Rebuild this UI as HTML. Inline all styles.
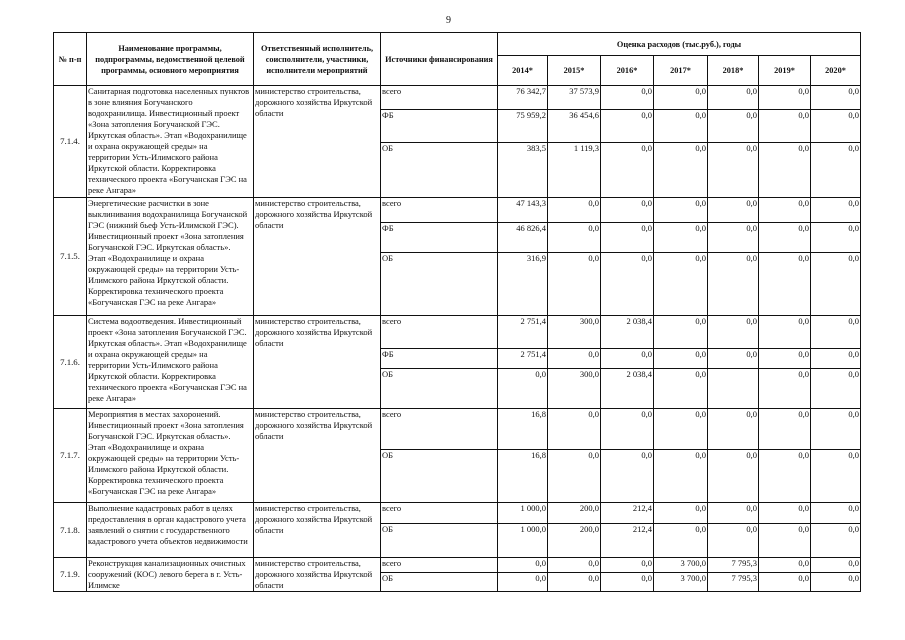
<!DOCTYPE html>
<html><head><meta charset="utf-8"><style>
html,body{margin:0;padding:0;background:#fff;width:905px;height:640px;overflow:hidden}
body{font-family:"Liberation Serif","DejaVu Serif",serif;color:#111}
.pn{position:absolute;left:446px;top:15px;font-size:10px}
table{position:absolute;left:53px;top:32px;border-collapse:collapse;table-layout:fixed;font-size:8.5px;line-height:11px}
td{border:1px solid #111;padding:0 1px;vertical-align:top;overflow:hidden;box-sizing:border-box}
td.t{white-space:nowrap}
th{border:1px solid #111;font-weight:bold;font-size:8.3px;line-height:11px;vertical-align:middle;text-align:center;padding:0 2px}
td.n{text-align:right;padding-right:1px}
td.id{vertical-align:middle;text-align:center;font-size:8.8px;padding:0}
</style></head><body>
<div class="pn">9</div>
<table>
<colgroup><col style="width:33px"><col style="width:167px"><col style="width:127px"><col style="width:117px"><col style="width:50px"><col style="width:53px"><col style="width:53px"><col style="width:54px"><col style="width:51px"><col style="width:52px"><col style="width:50px"></colgroup>
<tr style="height:23px"><th rowspan="2">№ п-п</th><th rowspan="2">Наименование программы, подпрограммы, ведомственной целевой программы, основного мероприятия</th><th rowspan="2">Ответственный исполнитель, соисполнители, участники, исполнители мероприятий</th><th rowspan="2">Источники финансирования</th><th colspan="7">Оценка расходов (тыс.руб.), годы</th></tr>
<tr style="height:30px"><th>2014*</th><th>2015*</th><th>2016*</th><th>2017*</th><th>2018*</th><th>2019*</th><th>2020*</th></tr>

<tr style="height:24px"><td class="id" rowspan="3">7.1.4.</td><td class="t" rowspan="3">Санитарная подготовка населенных пунктов<br>в зоне влияния Богучанского<br>водохранилища. Инвестиционный проект<br>«Зона затопления Богучанской ГЭС.<br>Иркутская область». Этап «Водохранилище<br>и охрана окружающей среды» на<br>территории Усть-Илимского района<br>Иркутской области. Корректировка<br>технического проекта «Богучанская ГЭС на<br>реке Ангара»</td><td class="t" rowspan="3">министерство строительства,<br>дорожного хозяйства Иркутской<br>области</td><td>всего</td><td class="n">76 342,7</td><td class="n">37 573,9</td><td class="n">0,0</td><td class="n">0,0</td><td class="n">0,0</td><td class="n">0,0</td><td class="n">0,0</td></tr>
<tr style="height:33px"><td>ФБ</td><td class="n">75 959,2</td><td class="n">36 454,6</td><td class="n">0,0</td><td class="n">0,0</td><td class="n">0,0</td><td class="n">0,0</td><td class="n">0,0</td></tr>
<tr style="height:55px"><td>ОБ</td><td class="n">383,5</td><td class="n">1 119,3</td><td class="n">0,0</td><td class="n">0,0</td><td class="n">0,0</td><td class="n">0,0</td><td class="n">0,0</td></tr>

<tr style="height:25px"><td class="id" rowspan="3">7.1.5.</td><td class="t" rowspan="3">Энергетические расчистки в зоне<br>выклинивания водохранилища Богучанской<br>ГЭС (нижний бьеф Усть-Илимской ГЭС).<br>Инвестиционный проект «Зона затопления<br>Богучанской ГЭС. Иркутская область».<br>Этап «Водохранилище и охрана<br>окружающей среды» на территории Усть-<br>Илимского района Иркутской области.<br>Корректировка технического проекта<br>«Богучанская ГЭС на реке Ангара»</td><td class="t" rowspan="3">министерство строительства,<br>дорожного хозяйства Иркутской<br>области</td><td>всего</td><td class="n">47 143,3</td><td class="n">0,0</td><td class="n">0,0</td><td class="n">0,0</td><td class="n">0,0</td><td class="n">0,0</td><td class="n">0,0</td></tr>
<tr style="height:30px"><td>ФБ</td><td class="n">46 826,4</td><td class="n">0,0</td><td class="n">0,0</td><td class="n">0,0</td><td class="n">0,0</td><td class="n">0,0</td><td class="n">0,0</td></tr>
<tr style="height:63px"><td>ОБ</td><td class="n">316,9</td><td class="n">0,0</td><td class="n">0,0</td><td class="n">0,0</td><td class="n">0,0</td><td class="n">0,0</td><td class="n">0,0</td></tr>

<tr style="height:33px"><td class="id" rowspan="3">7.1.6.</td><td class="t" rowspan="3">Система водоотведения. Инвестиционный<br>проект «Зона затопления Богучанской ГЭС.<br>Иркутская область». Этап «Водохранилище<br>и охрана окружающей среды» на<br>территории Усть-Илимского района<br>Иркутской области. Корректировка<br>технического проекта «Богучанская ГЭС на<br>реке Ангара»</td><td class="t" rowspan="3">министерство строительства,<br>дорожного хозяйства Иркутской<br>области</td><td>всего</td><td class="n">2 751,4</td><td class="n">300,0</td><td class="n">2 038,4</td><td class="n">0,0</td><td class="n">0,0</td><td class="n">0,0</td><td class="n">0,0</td></tr>
<tr style="height:20px"><td>ФБ</td><td class="n">2 751,4</td><td class="n">0,0</td><td class="n">0,0</td><td class="n">0,0</td><td class="n">0,0</td><td class="n">0,0</td><td class="n">0,0</td></tr>
<tr style="height:40px"><td>ОБ</td><td class="n">0,0</td><td class="n">300,0</td><td class="n">2 038,4</td><td class="n">0,0</td><td class="n"></td><td class="n">0,0</td><td class="n">0,0</td></tr>

<tr style="height:41px"><td class="id" rowspan="2">7.1.7.</td><td class="t" rowspan="2">Мероприятия в местах захоронений.<br>Инвестиционный проект «Зона затопления<br>Богучанской ГЭС. Иркутская область».<br>Этап «Водохранилище и охрана<br>окружающей среды» на территории Усть-<br>Илимского района Иркутской области.<br>Корректировка технического проекта<br>«Богучанская ГЭС на реке Ангара»</td><td class="t" rowspan="2">министерство строительства,<br>дорожного хозяйства Иркутской<br>области</td><td>всего</td><td class="n">16,8</td><td class="n">0,0</td><td class="n">0,0</td><td class="n">0,0</td><td class="n">0,0</td><td class="n">0,0</td><td class="n">0,0</td></tr>
<tr style="height:53px"><td>ОБ</td><td class="n">16,8</td><td class="n">0,0</td><td class="n">0,0</td><td class="n">0,0</td><td class="n">0,0</td><td class="n">0,0</td><td class="n">0,0</td></tr>

<tr style="height:21px"><td class="id" rowspan="2">7.1.8.</td><td class="t" rowspan="2">Выполнение кадастровых работ в целях<br>предоставления в орган кадастрового учета<br>заявлений о снятии с государственного<br>кадастрового учета объектов недвижимости</td><td class="t" rowspan="2">министерство строительства,<br>дорожного хозяйства Иркутской<br>области</td><td>всего</td><td class="n">1 000,0</td><td class="n">200,0</td><td class="n">212,4</td><td class="n">0,0</td><td class="n">0,0</td><td class="n">0,0</td><td class="n">0,0</td></tr>
<tr style="height:34px"><td>ОБ</td><td class="n">1 000,0</td><td class="n">200,0</td><td class="n">212,4</td><td class="n">0,0</td><td class="n">0,0</td><td class="n">0,0</td><td class="n">0,0</td></tr>

<tr style="height:15px"><td class="id" rowspan="2">7.1.9.</td><td class="t" rowspan="2">Реконструкция канализационных очистных<br>сооружений (КОС) левого берега в г. Усть-<br>Илимске</td><td class="t" rowspan="2">министерство строительства,<br>дорожного хозяйства Иркутской<br>области</td><td>всего</td><td class="n">0,0</td><td class="n">0,0</td><td class="n">0,0</td><td class="n">3 700,0</td><td class="n">7 795,3</td><td class="n">0,0</td><td class="n">0,0</td></tr>
<tr style="height:18px"><td>ОБ</td><td class="n">0,0</td><td class="n">0,0</td><td class="n">0,0</td><td class="n">3 700,0</td><td class="n">7 795,3</td><td class="n">0,0</td><td class="n">0,0</td></tr>
</table>
</body></html>
